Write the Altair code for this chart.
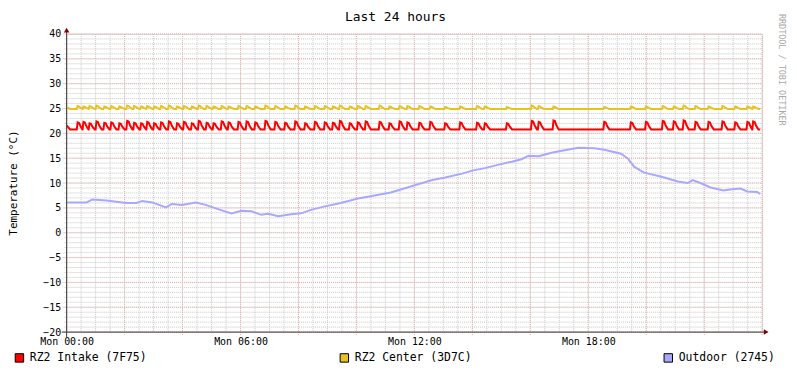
import json
import altair as alt
import pandas as pd
import numpy as np

# ---------------- data ----------------
title_text = "Last 24 hours"
y_title = "Temperature (°C)"
watermark = "RRDTOOL / TOBI OETIKER"
series_names = ["RZ2 Intake (7F75)", "RZ2 Center (3D7C)", "Outdoor (2745)"]
series_colors = ["#FF0000", "#E8C21E", "#A8A8FF"]
x_tick_hours = [0, 6, 12, 18]
x_tick_labels = ["Mon 00:00", "Mon 06:00", "Mon 12:00", "Mon 18:00"]
y_ticks = list(range(-20, 41, 5))

# hours at which the heating cycles peak (both indoor sensors)
spike_hours = [
    0.38, 0.58, 0.79, 1.03, 1.30, 1.54, 1.82, 2.09, 2.33, 2.57, 2.78, 3.02,
    3.26, 3.53, 3.81, 4.05, 4.32, 4.56, 4.83, 5.07, 5.35, 5.59, 5.93,
    6.21, 6.51, 6.86, 7.20, 7.54, 7.89, 8.23, 8.57, 8.91, 9.19, 9.43, 9.77,
    10.05, 10.32, 10.80, 11.14, 11.49, 11.76,
    12.17, 12.55, 13.06, 13.58, 14.16, 14.43, 15.19, 16.05, 16.29, 16.80,
    18.55, 19.47, 19.99, 20.57, 20.95, 21.29, 21.70, 22.15, 22.63, 23.07, 23.49, 23.69,
]
intake_peaks = [
    22.2, 22.3, 22.0, 22.4, 22.1, 22.2, 22.0, 22.5, 22.1, 22.0, 22.3, 22.0,
    22.2, 22.4, 22.0, 22.3, 22.0, 22.5, 22.1, 22.0, 22.4, 22.2, 22.3,
    22.4, 22.2, 22.5, 22.3, 22.1, 22.4, 22.0, 22.3, 22.2, 22.1, 22.5, 22.0,
    22.2, 22.4, 22.3, 22.0, 22.4, 22.2,
    22.1, 22.3, 22.0, 22.2, 22.1, 22.0, 22.0, 22.5, 22.3, 22.6,
    22.3, 22.2, 22.3, 22.5, 22.4, 22.6, 22.3, 22.3, 22.4, 22.2, 22.3, 22.4,
]
center_peaks = [
    25.5, 25.4, 25.5, 25.6, 25.4, 25.5, 25.4, 25.6, 25.5, 25.4, 25.5, 25.4,
    25.5, 25.6, 25.4, 25.5, 25.4, 25.6, 25.5, 25.4, 25.5, 25.4, 25.5,
    25.5, 25.4, 25.6, 25.5, 25.4, 25.6, 25.4, 25.5, 25.5, 25.4, 25.6, 25.4,
    25.5, 25.5, 25.6, 25.4, 25.5, 25.5,
    25.5, 25.4, 25.3, 25.4, 25.5, 25.4, 25.3, 25.6, 25.5, 25.4,
    25.3, 25.4, 25.4, 25.5, 25.4, 25.6, 25.5, 25.4, 25.5, 25.4, 25.4, 25.4,
]
intake_base = 20.8
center_base = 24.9
intake_start = 21.6
center_start = 25.2
series_end_hour = 23.93

outdoor_hours = [
    0.00, 0.69, 0.89, 1.37, 2.06, 2.40, 2.61, 2.95, 3.43, 3.63, 3.98, 4.46,
    4.80, 5.25, 5.69, 6.03, 6.38, 6.72, 6.96, 7.30, 7.75, 8.09, 8.43, 8.91,
    9.46, 10.05, 10.63, 11.18, 11.76, 12.10, 12.62, 13.06, 13.65, 13.99,
    14.43, 14.91, 15.36, 15.70, 15.94, 16.29, 16.73, 17.18, 17.66, 18.21,
    18.55, 19.13, 19.37, 19.58, 19.92, 20.50, 21.09, 21.43, 21.60, 21.87,
    22.22, 22.66, 22.90, 23.25, 23.49, 23.83, 23.93,
]
outdoor_values = [
    6.1, 6.1, 6.7, 6.5, 6.0, 6.0, 6.4, 6.1, 5.1, 5.8, 5.6, 6.1,
    5.6, 4.7, 3.9, 4.4, 4.3, 3.6, 3.8, 3.3, 3.7, 3.9, 4.6, 5.3,
    6.0, 6.9, 7.5, 8.1, 9.1, 9.7, 10.6, 11.1, 11.9, 12.5,
    13.0, 13.7, 14.3, 14.8, 15.5, 15.4, 16.1, 16.6, 17.1, 17.0,
    16.7, 15.9, 14.9, 13.3, 12.1, 11.3, 10.3, 10.0, 10.6, 10.0,
    9.1, 8.5, 8.7, 8.9, 8.3, 8.2, 7.8,
]

# ---------------- build table ----------------
rows = []


def add_cycles(name, start, base, peaks):
    rows.append((0.0, start, name))
    rows.append((0.12, base, name))
    n = len(spike_hours)
    for i, (h, p) in enumerate(zip(spike_hours, peaks)):
        nxt = spike_hours[i + 1] if i + 1 < n else series_end_hour + 0.1
        shoulder = base + 0.45 * (p - base)
        rows.append((h - 0.03, base, name))
        rows.append((h, p, name))
        rows.append((h + 0.05, p - 0.1, name))
        rows.append((h + 0.10, shoulder, name))
        rows.append((min(h + 0.18, nxt - 0.035), base, name))
    rows.append((series_end_hour, base, name))


add_cycles(series_names[0], intake_start, intake_base, intake_peaks)
add_cycles(series_names[1], center_start, center_base, center_peaks)
for h, v in zip(outdoor_hours, outdoor_values):
    rows.append((h, v, series_names[2]))
df = pd.DataFrame(rows, columns=["t", "v", "series"])
df["k"] = np.arange(len(df))

# ---------------- styling / layout ----------------
MONO = "DejaVu Sans Mono"
W, H = 700, 300
xs = alt.Scale(domain=[0, 24], nice=False, zero=False)
ys = alt.Scale(domain=[-20, 40], nice=False, zero=False)

label_expr = "{}[indexof({}, datum.value)]".format(json.dumps(x_tick_labels), json.dumps(x_tick_hours))
x_axis = alt.Axis(values=x_tick_hours, labelExpr=label_expr, grid=False, domain=False, ticks=False,
                  labelFlush=False, labelOverlap=False,
                  labelPadding=4, title=None, labelFont=MONO, labelFontSize=10, labelColor="black")
y_axis = alt.Axis(values=y_ticks, grid=False, domain=False, ticks=False, labelPadding=6, title=None,
                  labelFlush=False, labelOverlap=False,
                  labelFont=MONO, labelFontSize=10, labelColor="black")

minor_x = pd.DataFrame({"v": np.arange(0, 24.001, 0.5)})
major_x = pd.DataFrame({"v": np.arange(0, 24.001, 2)})
minor_y = pd.DataFrame({"v": np.arange(-20, 40.001, 1)})
major_y = pd.DataFrame({"v": np.arange(-20, 40.001, 5)})
one = pd.DataFrame({"a": [0]})

grid_minor_color = "#C8C8C8"
grid_major_color = "#EBB0B0"

g1 = alt.Chart(minor_x).mark_rule(color=grid_minor_color, strokeDash=[1, 1], strokeWidth=1).encode(
    x=alt.X("v:Q", scale=xs, axis=x_axis), y=alt.value(0), y2=alt.value(H))
g2 = alt.Chart(minor_y).mark_rule(color=grid_minor_color, strokeDash=[1, 1], strokeWidth=1).encode(
    y=alt.Y("v:Q", scale=ys, axis=y_axis), x=alt.value(-2), x2=alt.value(W))
g3 = alt.Chart(major_x).mark_rule(color=grid_major_color, strokeDash=[1, 1], strokeWidth=1).encode(
    x=alt.X("v:Q", scale=xs, axis=x_axis), y=alt.value(0), y2=alt.value(H + 3))
g4 = alt.Chart(major_y).mark_rule(color=grid_major_color, strokeDash=[1, 1], strokeWidth=1).encode(
    y=alt.Y("v:Q", scale=ys, axis=y_axis), x=alt.value(-4), x2=alt.value(W))

lines = alt.Chart(df).mark_line(strokeWidth=2).encode(
    x=alt.X("t:Q", scale=xs, axis=x_axis),
    y=alt.Y("v:Q", scale=ys, axis=y_axis),
    color=alt.Color("series:N", scale=alt.Scale(domain=series_names, range=series_colors), legend=None),
    detail="series:N",
    order="k:Q",
)

axis_color = "#404040"
arrow_color = "#7F0000"
xaxis = alt.Chart(one).mark_rule(color=axis_color, strokeWidth=1).encode(
    x=alt.value(-5), x2=alt.value(W + 4), y=alt.value(H))
yaxis = alt.Chart(one).mark_rule(color=axis_color, strokeWidth=1).encode(
    x=alt.value(0), y=alt.value(H + 5), y2=alt.value(-4))
xarrow = alt.Chart(one).mark_point(shape="triangle-right", filled=True, color=arrow_color, size=30, opacity=1).encode(
    x=alt.value(W + 4), y=alt.value(H))
yarrow = alt.Chart(one).mark_point(shape="triangle-up", filled=True, color=arrow_color, size=30, opacity=1).encode(
    x=alt.value(0), y=alt.value(-4))

title = alt.Chart(one).mark_text(text=title_text, font=MONO, fontSize=13, color="black",
                                 align="center", baseline="middle").encode(
    x=alt.value(331), y=alt.value(-17))
ytitle = alt.Chart(one).mark_text(text=y_title, font=MONO, fontSize=11, color="black", angle=270,
                                  align="center", baseline="middle").encode(
    x=alt.value(-53), y=alt.value(150))
wmark = alt.Chart(one).mark_text(text=watermark, font=MONO, fontSize=8.5, color="#A8A8A8", angle=90,
                                 align="center", baseline="middle").encode(
    x=alt.value(720), y=alt.value(36))

legend_x = [-47.5, 279.5, 605.5]
legend_layers = []
for name, col, lx in zip(series_names, series_colors, legend_x):
    d = pd.DataFrame({"name": [name]})
    legend_layers.append(alt.Chart(d).mark_square(size=72, filled=True, fill=col, stroke="black",
                                                  strokeWidth=1, opacity=1).encode(
        x=alt.value(lx), y=alt.value(326)))
    legend_layers.append(alt.Chart(d).mark_text(font=MONO, fontSize=11.5, color="black", align="left",
                                                baseline="middle").encode(
        x=alt.value(lx + 10.5), y=alt.value(326), text="name:N"))

chart = alt.layer(
    g1, g2, g3, g4, lines, xaxis, yaxis, xarrow, yarrow, title, ytitle, wmark, *legend_layers
).properties(
    width=W, height=H,
    autosize=alt.AutoSizeParams(type="none"),
    padding={"left": 59, "top": 25, "right": 27, "bottom": 38},
).configure_view(stroke=None).configure(background="white")

chart.save("out.html", embed_options={"renderer": "svg", "actions": False})
